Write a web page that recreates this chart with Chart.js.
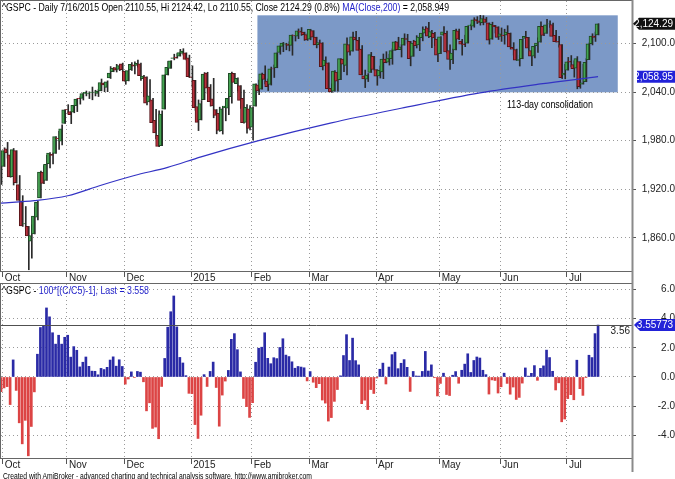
<!DOCTYPE html>
<html>
<head>
<meta charset="utf-8">
<script src="https://cdn.jsdelivr.net/npm/chart.js@4.4.0/dist/chart.umd.min.js"></script>
<style>
  body { margin: 0; background: #fff; width: 675px; height: 479px; overflow: hidden; position: relative; font-family: "Liberation Sans", Arial, sans-serif; }
  canvas { position: absolute; left: 0; }
  #c1 { top: 0; }
  #c2 { top: 283px; }
  .txt { position: absolute; white-space: nowrap; font-size: 11px; line-height: 12px; transform-origin: 0 50%; color: #000; }
  .blue { color: #1c1cc8; }
</style>
</head>
<body>
<canvas id="c1" width="675" height="283"></canvas>
<canvas id="c2" width="675" height="189"></canvas>
<div class="txt fit" data-w="447" style="left:2px;top:1px">^GSPC - Daily 7/16/2015 Open 2110.55, Hi 2124.42, Lo 2110.55, Close 2124.29 (0.8%) <span class="blue">MA(Close,200)</span> = 2,058.949</div>
<div class="txt fit" data-w="147" style="left:2px;top:284px">^GSPC - <span class="blue">100*[(C/C5)-1], Last = 3.558</span></div>
<div class="txt fit" data-w="86" style="left:507px;top:98px">113-day consolidation</div>
<div class="txt fit" data-w="309" style="left:3px;top:471px;font-size:9px;line-height:10px">Created with AmiBroker - advanced charting and technical analysis software. http://www.amibroker.com</div>
<script>
// daily bars, 1 Oct 2014 .. 16 Jul 2015
var open = [
  1971.44,1945.83,1948.12,1970.01,1962.36,1935.55,1967.68,1925.63,1905.65,1877.11,1874.18,1855.95,1864.91,1885.62,1909.38,1941.29,1931.02,1951.59,1962.97,1964.14,1983.29,1979.49,2001.20,
  2018.21,2015.81,2015.29,2023.33,2032.36,2032.01,2038.20,2037.75,2039.21,2039.74,2038.29,2041.48,2051.16,2045.87,2057.46,2065.07,2070.15,2067.91,2074.78,
  2065.78,2053.77,2067.45,2073.64,2072.78,2074.84,2056.55,2058.86,2027.92,2030.36,2005.03,1986.71,1973.77,2018.98,2061.04,2069.28,2081.48,2083.25,2084.30,2087.63,2088.49,2082.11,
  2058.90,2054.44,2022.15,2005.55,2030.61,2063.45,2046.13,2031.58,2018.40,2013.75,1992.25,2020.76,2020.19,2034.30,2062.98,2050.42,2047.86,2032.34,2002.45,2019.35,
  1996.67,2022.71,2048.86,2043.45,2062.28,2053.47,2049.38,2068.55,2069.98,2088.78,2096.47,2099.16,2099.25,2097.65,2109.83,2109.10,2115.30,2113.91,2110.88,
  2105.23,2115.76,2107.72,2098.54,2100.91,2072.25,2076.14,2044.69,2041.10,2064.56,2055.35,2080.59,2072.84,2098.69,2090.32,2107.99,2103.94,2093.10,2059.94,2055.78,2064.11,2084.05,
  2067.63,2060.03,2064.87,2080.79,2076.94,2081.29,2091.51,2102.03,2092.28,2097.82,2105.96,2102.58,2084.11,2102.82,2098.27,2107.21,2112.80,2119.29,2108.35,2112.49,2105.52,
  2087.38,2110.23,2112.63,2091.26,2079.96,2092.13,2115.56,2102.87,2099.62,2100.43,2122.07,2121.30,2129.45,2127.79,2125.55,2130.36,2125.34,2105.13,2122.27,2120.66,
  2108.64,2110.41,2110.64,2112.35,2095.09,2092.34,2079.07,2081.12,2106.24,2107.43,2091.34,2084.26,2097.40,2101.58,2121.06,2112.50,2124.16,2123.16,2109.96,2102.62,2098.63,2061.19,
  2067.00,2078.03,2073.95,2069.52,2077.66,2049.73,2052.74,2080.03,2099.72,2109.21,2110.55
];
var high = [
  1971.44,1952.32,1971.19,1977.84,1962.36,1970.36,1967.68,1936.98,1912.09,1898.71,1874.18,1876.01,1898.16,1905.03,1942.45,1949.31,1961.95,1965.27,1964.64,1985.05,1991.40,1999.40,2018.19,
  2024.46,2015.98,2023.77,2031.61,2034.26,2038.70,2041.28,2040.33,2046.18,2042.22,2043.07,2056.08,2052.14,2053.84,2071.46,2070.17,2074.21,2073.40,2075.76,
  2065.78,2068.77,2076.28,2077.34,2079.47,2075.78,2060.60,2058.86,2055.53,2032.25,2018.69,2016.89,2016.75,2061.23,2077.85,2078.76,2086.73,2087.56,2092.70,2093.55,2088.49,2085.58,
  2072.36,2054.44,2030.25,2029.61,2064.08,2064.43,2049.30,2056.93,2018.40,2021.35,2020.46,2028.94,2038.29,2064.62,2062.98,2057.62,2047.86,2042.49,2024.64,2023.32,
  2021.66,2050.30,2054.74,2063.55,2072.40,2056.16,2070.86,2073.48,2088.53,2097.03,2101.30,2100.23,2102.13,2110.61,2110.05,2117.94,2119.59,2113.91,2112.74,
  2117.52,2115.76,2107.72,2104.25,2100.91,2083.49,2076.14,2050.08,2066.41,2064.56,2081.41,2080.59,2106.85,2098.69,2113.92,2114.86,2107.63,2097.43,2067.15,2062.83,2088.97,2084.05,
  2067.63,2072.17,2086.99,2089.81,2086.69,2093.31,2102.61,2107.65,2098.62,2111.91,2111.30,2102.58,2103.94,2109.64,2109.98,2120.49,2120.92,2125.92,2116.04,2113.65,2105.52,
  2108.41,2120.95,2115.24,2098.42,2092.90,2117.66,2117.69,2105.06,2110.19,2121.45,2123.89,2131.78,2133.02,2134.72,2134.28,2132.15,2125.34,2126.22,2122.27,2120.66,
  2119.15,2117.59,2121.92,2112.89,2100.99,2093.01,2085.62,2105.58,2115.02,2107.43,2091.34,2097.40,2106.79,2126.65,2121.64,2129.87,2128.03,2125.10,2116.04,2108.92,2098.63,2074.28,
  2082.78,2085.06,2078.61,2083.74,2077.66,2074.28,2081.31,2100.67,2111.98,2114.14,2124.42
];
var low = [
  1941.72,1926.03,1948.12,1958.43,1934.87,1925.25,1927.56,1906.05,1874.14,1871.79,1820.66,1835.02,1864.91,1882.30,1909.38,1926.83,1931.02,1946.27,1951.37,1964.14,1969.04,1974.75,2001.20,
  2013.68,2001.01,2014.42,2015.86,2025.07,2030.17,2035.28,2031.95,2030.44,2035.20,2034.46,2041.48,2040.37,2040.49,2056.75,2065.07,2064.75,2066.37,2065.06,
  2049.57,2053.77,2066.65,2062.34,2070.81,2054.27,2034.17,2024.26,2027.92,2002.33,1982.26,1972.56,1973.77,2018.98,2061.03,2069.28,2079.77,2081.86,2084.30,2085.75,2079.53,2057.94,
  2046.04,2017.34,1992.44,2005.55,2030.61,2038.33,2022.58,2008.25,1988.44,1991.47,1988.12,2004.49,2012.04,2026.38,2050.54,2040.97,2019.91,2001.49,1989.18,1993.38,
  1980.90,2022.71,2036.72,2043.45,2049.97,2041.88,2048.62,2057.99,2069.98,2086.70,2089.80,2092.15,2090.79,2085.44,2103.00,2105.87,2109.89,2103.76,2103.75,
  2104.50,2098.26,2094.49,2095.22,2067.27,2072.21,2044.16,2039.69,2041.10,2041.17,2055.35,2065.08,2061.23,2085.56,2090.32,2104.42,2091.50,2061.05,2045.50,2052.96,2064.11,2067.04,
  2048.38,2057.32,2056.52,2076.10,2073.30,2074.29,2091.51,2092.33,2083.24,2097.82,2100.02,2072.37,2084.11,2094.38,2091.05,2103.19,2112.80,2107.04,2094.89,2097.41,2077.59,
  2087.38,2110.23,2088.46,2067.93,2074.99,2092.13,2104.58,2085.57,2096.04,2100.43,2116.81,2120.01,2124.50,2122.59,2122.95,2126.06,2099.18,2105.13,2112.86,2104.89,
  2102.54,2099.14,2109.61,2093.23,2085.67,2079.11,2072.14,2081.12,2106.24,2091.33,2072.49,2082.10,2088.86,2101.58,2109.45,2112.50,2119.89,2108.58,2101.78,2095.38,2056.64,2056.32,
  2067.00,2071.02,2058.40,2044.02,2044.66,2049.73,2052.74,2080.03,2098.18,2102.49,2110.55
];
var close = [
  1946.16,1946.17,1967.90,1964.82,1935.10,1968.89,1928.21,1906.13,1874.74,1877.70,1862.49,1862.76,1886.76,1904.01,1941.28,1927.11,1950.82,1964.58,1961.63,1985.05,1982.30,1994.65,2018.05,
  2017.81,2012.10,2023.57,2031.21,2031.92,2038.26,2039.68,2038.25,2039.33,2039.82,2041.32,2051.80,2048.72,2052.75,2063.50,2069.41,2067.03,2072.83,2067.56,
  2053.44,2066.55,2074.33,2071.92,2075.37,2060.31,2059.82,2026.14,2035.33,2002.33,1989.63,1972.74,2012.89,2061.23,2070.65,2078.54,2082.17,2081.88,2088.77,2090.57,2080.35,2058.90,
  2058.20,2020.58,2002.61,2025.90,2062.14,2044.81,2028.26,2023.03,2011.27,1992.67,2019.42,2022.55,2032.12,2063.15,2051.82,2057.09,2029.55,2002.16,2021.25,1994.99,
  2020.85,2050.03,2041.51,2062.52,2055.47,2046.74,2068.59,2068.53,2088.48,2096.99,2100.34,2099.68,2097.45,2110.30,2109.66,2115.48,2113.86,2110.74,2104.50,
  2117.39,2107.78,2098.53,2101.04,2071.26,2079.43,2044.16,2040.24,2065.95,2053.40,2081.19,2074.28,2099.50,2089.27,2108.10,2104.42,2091.50,2061.05,2056.15,2061.02,2086.24,2067.89,
  2059.69,2066.96,2080.62,2076.33,2081.90,2091.18,2102.06,2092.43,2095.84,2106.63,2104.99,2081.18,2100.40,2097.29,2107.96,2112.93,2117.69,2108.92,2114.76,2106.85,2085.51,
  2108.29,2114.49,2089.46,2080.15,2088.00,2116.10,2105.33,2099.12,2098.48,2121.10,2122.73,2129.20,2127.83,2125.85,2130.82,2126.06,2104.20,2123.48,2120.79,2107.39,
  2111.73,2109.60,2114.07,2095.84,2092.83,2079.28,2080.15,2105.20,2108.86,2094.11,2084.43,2096.29,2100.44,2121.24,2109.99,2122.85,2124.20,2108.58,2102.31,2101.49,2057.64,2063.11,
  2077.42,2076.78,2068.76,2081.34,2046.68,2051.31,2076.62,2099.60,2108.95,2107.40,2124.29
];
// 100*[(C/C5)-1]
var roc = [
  -2.61,-1.01,-0.75,-0.66,-1.89,1.17,-0.92,-3.14,-4.58,-2.97,-5.40,-3.39,-1.02,1.56,3.39,3.47,4.73,4.12,3.03,2.25,2.86,2.25,2.72,
  2.86,1.36,2.08,1.83,0.69,1.01,1.37,0.73,0.40,0.39,0.15,0.59,0.51,0.66,1.16,1.38,0.74,1.18,0.72,
  -0.49,-0.14,0.35,-0.04,0.38,0.33,-0.33,-2.32,-1.77,-3.52,-3.43,-4.23,-0.65,1.27,3.41,4.47,5.55,3.43,1.34,0.96,0.09,-1.12,
  -1.14,-3.26,-4.21,-2.62,0.16,-0.65,0.38,1.02,-0.72,-3.37,-1.24,-0.28,0.45,2.58,2.97,1.87,0.35,-1.47,-2.03,-2.77,
  -1.76,1.01,1.97,2.04,3.03,1.28,0.91,1.32,1.26,2.02,2.62,1.50,1.40,1.04,0.60,0.72,0.68,0.63,-0.27,
  0.37,-0.36,-0.73,-0.46,-1.58,-1.79,-3.02,-2.78,-1.67,-0.86,0.08,1.47,2.90,1.13,2.66,1.12,0.83,-1.83,-1.59,-2.23,-0.86,-1.13,
  -0.07,0.53,0.95,-0.48,0.68,1.53,1.70,0.57,0.94,1.19,0.66,-0.99,0.38,0.07,0.06,0.38,1.75,0.41,0.83,-0.05,-1.30,
  -0.44,0.26,-1.20,-1.27,0.12,0.37,-0.43,0.46,0.88,1.59,0.31,1.13,1.37,1.30,0.46,0.16,-1.17,-0.20,-0.24,-1.10,
  -0.67,0.26,-0.44,-1.18,-0.69,-1.54,-1.40,-0.42,0.62,0.06,0.25,0.78,-0.23,0.59,0.76,1.84,1.33,0.39,-0.89,-0.40,-3.07,-2.88,
  -1.48,-1.21,-1.56,1.15,-0.80,-1.26,-0.01,1.49,1.33,2.97,3.558
];
// MA(Close,200) read at a few bars
var maBar = [1, 12, 23, 34, 45, 56, 67, 86, 110, 133, 159, 179, 198];
var maVal = [1903, 1906, 1912, 1925, 1937, 1947, 1960, 1980, 2002, 2020, 2039, 2050, 2058.95];

var monthStart = [0, 23, 42, 64, 84, 103, 125, 146, 166, 188];
var monthLabels = ['Oct', 'Nov', 'Dec', '2015', 'Feb', 'Mar', 'Apr', 'May', 'Jun', 'Jul'];
var priceTicks = [1860, 1920, 1980, 2040, 2100];
var rocTicks = [-4, -2, 0, 2, 4, 6];

// consolidation box
var boxFrom = 85.6, boxTo = 204.5, boxLow = 2039.69, boxHigh = 2134.72;

var xMin = 0.99, xMax = 209.2;
var monthTicks = monthStart.map(function(s) { return Math.max(s - 0.25, xMin + 0.55); });

Chart.defaults.font.family = '"Liberation Sans", Arial, sans-serif';
Chart.defaults.font.size = 10;
Chart.defaults.color = '#222';

function noPad(s) {
  s.paddingTop = 0; s.paddingBottom = 0; s.paddingLeft = 0; s.paddingRight = 0;
}

function xScale(height) {
  return {
    type: 'linear', min: xMin, max: xMax, offset: false,
    afterFit: function(s) { s.height = height; noPad(s); },
    afterBuildTicks: function(s) { s.ticks = monthTicks.map(function(v) { return {value: v}; }); },
    ticks: { callback: function(v, i) { return monthLabels[i]; }, align: 'start', labelOffset: 2, padding: -5, maxRotation: 0, autoSkip: false },
    grid: { offset: false, color: '#9a9a9a', tickColor: '#555', tickLength: 6, tickBorderDash: [] },
    border: { dash: [1, 3], color: '#666' }
  };
}

function frameAndAxis(chart) {
  var ctx = chart.ctx, a = chart.chartArea;
  ctx.save();
  ctx.strokeStyle = '#666';
  ctx.lineWidth = 1;
  ctx.strokeRect(a.left - 0.5, a.top - 0.5, a.right - a.left + 1, a.bottom - a.top + 1);
  ctx.strokeStyle = '#8a8a8a';
  ctx.lineWidth = 2;
  ctx.beginPath();
  ctx.moveTo(a.right + 0.5, 0);
  ctx.lineTo(a.right + 0.5, chart.height);
  ctx.stroke();
  ctx.restore();
}

function tag(ctx, x, y, text, bg, arrow) {
  ctx.save();
  ctx.fillStyle = bg;
  ctx.beginPath();
  if (arrow) {
    ctx.moveTo(x, y);
    ctx.lineTo(x + 6, y - 6);
    ctx.lineTo(675, y - 6);
    ctx.lineTo(675, y + 6);
    ctx.lineTo(x + 6, y + 6);
    ctx.closePath();
  } else {
    ctx.rect(x, y - 6, 675 - x, 12);
  }
  ctx.fill();
  ctx.fillStyle = '#fff';
  ctx.font = '10px "Liberation Sans", Arial, sans-serif';
  ctx.textBaseline = 'middle';
  ctx.textAlign = 'right';
  ctx.fillText(text, 673, y + 0.5);
  ctx.restore();
}

var last = close.length - 1;

var pricePlugin = {
  id: 'pricePlugin',
  beforeDraw: function(chart) {
    var xs = chart.scales.x, ys = chart.scales.y, ctx = chart.ctx;
    var x1 = xs.getPixelForValue(boxFrom), x2 = xs.getPixelForValue(boxTo);
    var y1 = ys.getPixelForValue(boxHigh), y2 = ys.getPixelForValue(boxLow);
    ctx.save();
    ctx.fillStyle = 'rgb(124,153,199)';
    ctx.fillRect(x1, y1, x2 - x1, y2 - y1);
    ctx.restore();
  },
  afterDraw: function(chart) {
    var ys = chart.scales.y, ctx = chart.ctx;
    frameAndAxis(chart);
    tag(ctx, 633, ys.getPixelForValue(close[last]), '2,124.29', '#111', true);
    tag(ctx, 637, ys.getPixelForValue(maVal[maVal.length - 1]), '2,058.95', '#2222d8', false);
  }
};

var rocPlugin = {
  id: 'rocPlugin',
  afterDatasetsDraw: function(chart) {
    var a = chart.chartArea, ys = chart.scales.y, ctx = chart.ctx;
    var y = Math.round(ys.getPixelForValue(roc[last])) + 0.5;
    ctx.save();
    ctx.strokeStyle = '#505050';
    ctx.lineWidth = 1;
    ctx.beginPath();
    ctx.moveTo(a.left, y);
    ctx.lineTo(a.right, y);
    ctx.stroke();
    ctx.restore();
  },
  afterDraw: function(chart) {
    var ys = chart.scales.y, ctx = chart.ctx, a = chart.chartArea;
    frameAndAxis(chart);
    var y = ys.getPixelForValue(roc[last]);
    tag(ctx, 634, y, '3.55773', '#2222d8', true);
    ctx.save();
    ctx.fillStyle = '#222';
    ctx.font = '10px "Liberation Sans", Arial, sans-serif';
    ctx.textAlign = 'right';
    ctx.textBaseline = 'middle';
    ctx.fillText(roc[last].toFixed(2), a.right - 2, y + 6);
    ctx.restore();
  }
};

var bars = close.map(function(c, i) { return i; });

new Chart(document.getElementById('c1'), {
  type: 'bar',
  data: {
    datasets: [
      {
        type: 'line',
        data: maBar.map(function(b, k) { return {x: b, y: maVal[k]}; }),
        borderColor: '#3333c4', borderWidth: 1.2, pointRadius: 0,
        cubicInterpolationMode: 'monotone', order: 0
      },
      {
        data: bars.map(function(i) { return {x: i, y: [open[i], close[i]]}; }),
        backgroundColor: bars.map(function(i) { return close[i] >= open[i] ? '#45a452' : '#b8323e'; }),
        borderColor: bars.map(function(i) { return close[i] >= open[i] ? '#1d4a24' : '#571418'; }),
        borderWidth: 1, borderSkipped: false, barThickness: 3, order: 1
      },
      {
        data: bars.map(function(i) { return {x: i, y: [low[i], high[i]]}; }),
        backgroundColor: '#2a2a2a', barThickness: 1, order: 2
      }
    ]
  },
  options: {
    responsive: false, animation: false, devicePixelRatio: 1,
    layout: { padding: { left: 1, top: 1, right: 0, bottom: 0 } },
    plugins: { legend: { display: false }, tooltip: { enabled: false } },
    scales: {
      x: xScale(12),
      y: {
        position: 'right', min: 1819.1, max: 2152.4,
        afterFit: function(s) { s.width = 43; noPad(s); },
        afterBuildTicks: function(s) { s.ticks = priceTicks.map(function(v) { return {value: v}; }); },
        ticks: {
          callback: function(v) { return v.toLocaleString('en-US', {minimumFractionDigits: 1, maximumFractionDigits: 1}); },
          crossAlign: 'far', padding: 0
        },
        grid: { color: '#9a9a9a', tickColor: '#555', tickLength: 4, tickBorderDash: [] },
        border: { dash: [1, 3], display: false }
      }
    }
  },
  plugins: [pricePlugin]
});

new Chart(document.getElementById('c2'), {
  type: 'bar',
  data: {
    datasets: [{
      data: roc.map(function(v, i) { return {x: i, y: v}; }),
      backgroundColor: roc.map(function(v) { return v >= 0 ? '#2a2aa6' : '#dc4444'; }),
      barThickness: 2
    }]
  },
  options: {
    responsive: false, animation: false, devicePixelRatio: 1,
    layout: { padding: { left: 1, top: 1, right: 0, bottom: 0 } },
    plugins: { legend: { display: false }, tooltip: { enabled: false } },
    scales: {
      x: xScale(14),
      y: {
        position: 'right', min: -5.55, max: 6.37,
        afterFit: function(s) { s.width = 43; noPad(s); },
        afterBuildTicks: function(s) { s.ticks = rocTicks.map(function(v) { return {value: v}; }); },
        ticks: { callback: function(v) { return v.toFixed(1); }, crossAlign: 'far', padding: 14 },
        grid: { color: '#9a9a9a', tickColor: '#555', tickLength: 4, tickBorderDash: [] },
        border: { dash: [1, 3], display: false }
      }
    }
  },
  plugins: [rocPlugin]
});

document.querySelectorAll('.fit').forEach(function(el) {
  var w = el.getBoundingClientRect().width;
  el.style.transform = 'scaleX(' + (Number(el.dataset.w) / w) + ')';
});
</script>
</body>
</html>
